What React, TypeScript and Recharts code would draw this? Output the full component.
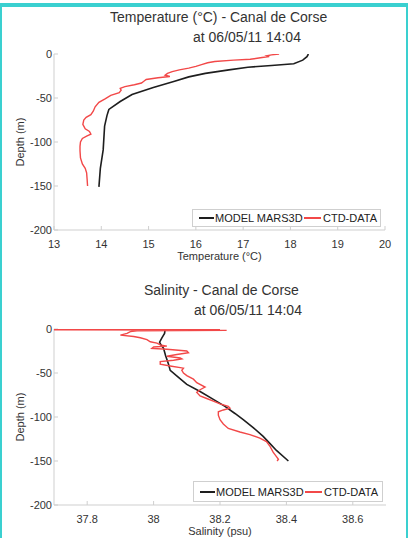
import React from 'react';
import { ScatterChart, Scatter, XAxis, YAxis, Label } from 'recharts';

// ---------- Data ----------
const depthTicks = [0, -50, -100, -150, -200];
const tempTicks = [13, 14, 15, 16, 17, 18, 19, 20];
const salTicks = [37.8, 38, 38.2, 38.4, 38.6];

// Temperature profile: model (depth m, temperature °C)
const modelTempDepth = [0, -3, -7, -11, -13, -15, -18, -22, -26, -31, -38, -46, -54, -63, -70, -82, -109, -130, -151];
const modelTempValue = [18.38, 18.35, 18.26, 18.07, 17.6, 17.1, 16.7, 16.2, 15.85, 15.55, 15.1, 14.65, 14.4, 14.16, 14.12, 14.07, 14.04, 13.98, 13.95];

// Temperature profile: CTD
const ctdTempDepth = [0, -1, -2, -3, -4, -6, -7, -8.5, -10, -12, -14, -16, -18, -20, -22, -24, -25.5, -27, -29, -31, -33, -35, -37, -39, -41, -44, -47, -51, -55, -60, -65, -69, -72, -75, -80, -85, -88, -91, -93, -96, -100, -105, -110, -118, -125, -130, -135, -142, -150];
const ctdTempValue = [17.76, 17.6, 17.5, 17.55, 17.4, 17.15, 16.8, 16.4, 16.25, 16.12, 16.0, 15.85, 15.65, 15.5, 15.4, 15.35, 15.45, 15.2, 14.95, 14.9, 14.85, 14.7, 14.5, 14.4, 14.42, 14.38, 14.2, 14.08, 13.95, 13.87, 13.83, 13.78, 13.68, 13.63, 13.61, 13.66, 13.75, 13.78, 13.7, 13.6, 13.56, 13.55, 13.55, 13.56, 13.6, 13.66, 13.69, 13.7, 13.71];

// Salinity profile: model
const modelSalDepth = [0, -5, -10, -15, -18, -22, -30, -40, -47, -55, -63, -71, -80, -88, -96, -103, -112, -122, -130, -138, -150];
const modelSalValue = [38.035, 38.033, 38.025, 38.018, 38.022, 38.03, 38.036, 38.045, 38.05, 38.075, 38.1, 38.14, 38.18, 38.215, 38.245, 38.27, 38.3, 38.33, 38.35, 38.37, 38.406];

// Salinity profile: CTD
const ctdSalDepth = [0, -0.4, -0.8, -1.2, -1.6, -2.0, -3, -5, -7, -8.5, -10, -12, -14.5, -16, -18, -19.5, -20.5, -22, -23, -25, -27, -29, -31, -33, -34, -35.5, -37, -40, -42, -44.5, -47, -50, -53, -57, -61, -66, -69, -72, -76, -79, -82, -85, -88, -90, -92, -94, -98, -103, -108, -113, -117, -120, -124, -128, -133, -140, -145, -148, -150];
const ctdSalValue = [37.7, 38.2, 37.7, 38.17, 38.22, 37.95, 37.93, 37.92, 37.9, 37.94, 37.96, 37.98, 37.99, 38.01, 38.02, 38.04, 38.0, 37.995, 38.04, 38.1, 38.105, 38.07, 38.04, 38.08, 38.085, 38.06, 38.02, 38.02, 38.05, 38.09, 38.085, 38.09, 38.1, 38.12, 38.13, 38.155, 38.14, 38.13, 38.14, 38.16, 38.18, 38.2, 38.225, 38.23, 38.21, 38.195, 38.195, 38.2, 38.21, 38.225, 38.26, 38.29, 38.32, 38.34, 38.35, 38.36, 38.37, 38.376, 38.372];

const zip = (vals: number[], depths: number[]) => vals.map((v, i) => ({ x: v, y: depths[i] }));

// ---------- Styles ----------
const FONT = '"Liberation Sans", Arial, Helvetica, sans-serif';
const TEXT = '#333';
const FRAME = '#cfcfcf';
const BLACK = '#1e1e1e';
const RED = '#f24848';

const tickStyle = { fill: TEXT, fontSize: 11, fontFamily: FONT };
const noShape = () => <g />;

type PanelProps = {
  top: number;
  height: number;
  margin: { top: number; right: number; bottom: number; left: number };
  xDomain: [number, number];
  xTicks: number[];
  xLabel: string;
  model: { x: number; y: number }[];
  ctd: { x: number; y: number }[];
};

function Panel({ top, height, margin, xDomain, xTicks, xLabel, model, ctd }: PanelProps) {
  return (
    <div style={{ position: 'absolute', left: 0, top, width: 408, height }}>
      <ScatterChart width={408} height={height} margin={margin}>
        <XAxis
          xAxisId="b"
          type="number"
          dataKey="x"
          domain={xDomain}
          ticks={xTicks}
          allowDataOverflow
          interval={0}
          height={30}
          stroke={FRAME}
          tickSize={-4}
          tickMargin={14}
          tick={tickStyle}
        >
          <Label value={xLabel} position="insideBottom" offset={0} style={{ fill: TEXT, fontSize: 11, fontFamily: FONT }} />
        </XAxis>
        <XAxis
          xAxisId="t"
          orientation="top"
          type="number"
          domain={xDomain}
          ticks={xTicks}
          allowDataOverflow
          interval={0}
          height={0}
          stroke={FRAME}
          tickSize={-4}
          tickFormatter={() => ''}
        />
        <YAxis
          yAxisId="l"
          type="number"
          dataKey="y"
          domain={[-200, 0]}
          ticks={depthTicks}
          allowDataOverflow
          interval={0}
          width={54}
          stroke={FRAME}
          tickSize={-4}
          tickMargin={6}
          tick={tickStyle}
        >
          <Label
            value="Depth (m)"
            angle={-90}
            position="insideLeft"
            offset={20}
            style={{ fill: TEXT, fontSize: 11, fontFamily: FONT, textAnchor: 'middle' }}
          />
        </YAxis>
        <YAxis
          yAxisId="r"
          orientation="right"
          type="number"
          domain={[-200, 0]}
          ticks={depthTicks}
          allowDataOverflow
          interval={0}
          width={0}
          stroke={FRAME}
          tickSize={-4}
          tickFormatter={() => ''}
        />
        <Scatter
          xAxisId="b"
          yAxisId="l"
          data={model}
          line={{ stroke: BLACK, strokeWidth: 1.6 }}
          shape={noShape}
          isAnimationActive={false}
        />
        <Scatter
          xAxisId="b"
          yAxisId="l"
          data={ctd}
          line={{ stroke: RED, strokeWidth: 1.4 }}
          shape={noShape}
          isAnimationActive={false}
        />
      </ScatterChart>
    </div>
  );
}

function Legend({ left, top, width, height }: { left: number; top: number; width: number; height: number }) {
  const mid = Math.round(height / 2);
  return (
    <div
      style={{
        position: 'absolute',
        left,
        top,
        width,
        height,
        boxSizing: 'border-box',
        border: `1px solid ${FRAME}`,
        background: '#fff',
        fontFamily: FONT,
        fontSize: 11,
        color: '#222',
      }}
    >
      <div style={{ position: 'absolute', left: 6, top: mid - 2, width: 15, height: 1.5, background: BLACK }} />
      <div style={{ position: 'absolute', left: 22, top: mid - 8, lineHeight: '14px', whiteSpace: 'nowrap' }}>MODEL MARS3D</div>
      <div style={{ position: 'absolute', left: 111, top: mid - 2, width: 17, height: 1.5, background: RED }} />
      <div style={{ position: 'absolute', left: 130, top: mid - 8, lineHeight: '14px', whiteSpace: 'nowrap' }}>CTD-DATA</div>
    </div>
  );
}

function Title({ left, top, text }: { left: number; top: number; text: string }) {
  return (
    <div
      style={{
        position: 'absolute',
        left,
        top,
        fontFamily: FONT,
        fontSize: 14,
        lineHeight: '14px',
        color: TEXT,
        whiteSpace: 'nowrap',
      }}
    >
      {text}
    </div>
  );
}

export default function App() {
  return (
    <div style={{ position: 'fixed', left: 0, top: 0, width: 408, height: 538, background: '#fff', overflow: 'hidden' }}>
      <Panel
        top={0}
        height={270}
        margin={{ top: 54, right: 23, bottom: 10, left: 0 }}
        xDomain={[13, 20]}
        xTicks={tempTicks}
        xLabel="Temperature (°C)"
        model={zip(modelTempValue, modelTempDepth)}
        ctd={zip(ctdTempValue, ctdTempDepth)}
      />
      <Panel
        top={270}
        height={268}
        margin={{ top: 59, right: 22, bottom: 3, left: 0 }}
        xDomain={[37.7, 38.7]}
        xTicks={salTicks}
        xLabel="Salinity (psu)"
        model={zip(modelSalValue, modelSalDepth)}
        ctd={zip(ctdSalValue, ctdSalDepth)}
      />
      <Title left={110} top={10} text="Temperature (°C) - Canal de Corse" />
      <Title left={193} top={30} text="at 06/05/11 14:04" />
      <Title left={144} top={283} text="Salinity - Canal de Corse" />
      <Title left={194} top={303} text="at 06/05/11 14:04" />
      <Legend left={192} top={209} width={189} height={18} />
      <Legend left={193} top={481} width={190} height={21} />
      {/* cyan frame */}
      <div style={{ position: 'absolute', left: 0, top: 3, width: 408, height: 4, background: '#3ad0d0' }} />
      <div style={{ position: 'absolute', left: 0, top: 3, width: 2, height: 535, background: '#3ad0d0' }} />
      <div style={{ position: 'absolute', left: 406, top: 3, width: 2, height: 535, background: '#3ad0d0' }} />
    </div>
  );
}
